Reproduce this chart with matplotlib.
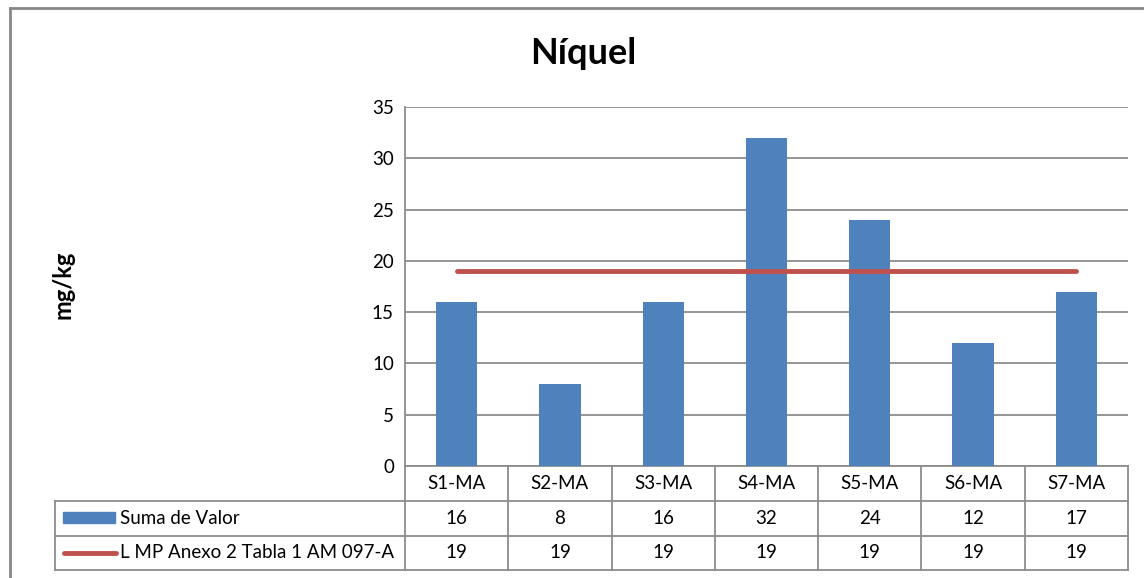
import matplotlib.pyplot as plt
from matplotlib.patches import Rectangle
from matplotlib.lines import Line2D
import matplotlib.transforms as mtransforms

plt.rcParams['font.family'] = ['Lato', 'DejaVu Sans']

# data
categories = ["S1-MA", "S2-MA", "S3-MA", "S4-MA", "S5-MA", "S6-MA", "S7-MA"]
suma_valor = [16, 8, 16, 32, 24, 12, 17]
limite = [19, 19, 19, 19, 19, 19, 19]
series_names = ["Suma de Valor", "L MP Anexo 2 Tabla 1 AM 097-A"]

BAR_COLOR = "#4F81BD"
LINE_COLOR = "#C0504D"
GRID_COLOR = "#8C8C8C"
FS = 13.5

W, H = 1144, 578
fig = plt.figure(figsize=(W / 100, H / 100), dpi=100)

# plot area in pixels
left_px, right_px, top_px, bottom_px = 405, 1128, 107, 466
ax = fig.add_axes([left_px / W, 1 - bottom_px / H,
                   (right_px - left_px) / W, (bottom_px - top_px) / H])

x = list(range(len(categories)))
ax.bar(x, suma_valor, width=0.4, color=BAR_COLOR, zorder=3)
ax.plot(x, limite, color=LINE_COLOR, lw=3.5, solid_capstyle='round', zorder=4)

ax.set_xlim(-0.5, len(categories) - 0.5)
ax.set_ylim(0, 35)
ax.set_yticks(range(0, 36, 5))
ax.set_xticks([])
ax.grid(axis='y', color=GRID_COLOR, lw=1.3, zorder=0)
ax.tick_params(axis='y', length=0, pad=8, labelsize=FS)
for side in ['top', 'right', 'bottom']:
    ax.spines[side].set_visible(False)
ax.spines['left'].set_color(GRID_COLOR)
ax.spines['left'].set_linewidth(1.3)

# data table below the axes
trans = mtransforms.blended_transform_factory(ax.transData, ax.transAxes)
ph = bottom_px - top_px
row_y = [0, -35 / ph, -70 / ph, -104 / ph]
x_left = -0.5 - (left_px - 55) / (right_px - left_px) * len(categories)
x_right = len(categories) - 0.5
tbl_kw = dict(color=GRID_COLOR, lw=1.3, transform=trans, clip_on=False)

# horizontal lines
ax.add_line(Line2D([-0.5, x_right], [row_y[0]] * 2, **tbl_kw))
for yy in row_y[1:]:
    ax.add_line(Line2D([x_left, x_right], [yy] * 2, **tbl_kw))
# vertical lines
for i in range(len(categories) + 1):
    xv = i - 0.5
    ax.add_line(Line2D([xv, xv], [row_y[0], row_y[3]], **tbl_kw))
ax.add_line(Line2D([x_left, x_left], [row_y[1], row_y[3]], **tbl_kw))

def mid(a, b):
    return (a + b) / 2

for i, cat in enumerate(categories):
    ax.text(i, mid(row_y[0], row_y[1]), cat, transform=trans, ha='center',
            va='center', fontsize=FS)
    ax.text(i, mid(row_y[1], row_y[2]), str(suma_valor[i]), transform=trans,
            ha='center', va='center', fontsize=FS)
    ax.text(i, mid(row_y[2], row_y[3]), str(limite[i]), transform=trans,
            ha='center', va='center', fontsize=FS)

# legend keys in the table
px = (right_px - left_px) / len(categories)  # pixels per category
def xpix(p):
    return -0.5 + (p - left_px) / px

ax.add_patch(Rectangle((xpix(63), -57 / ph), xpix(115) - xpix(63), 11 / ph,
                       color=BAR_COLOR, transform=trans, clip_on=False))
ax.add_line(Line2D([xpix(64), xpix(116)], [-87 / ph] * 2, color=LINE_COLOR,
                   lw=3.5, solid_capstyle='round', transform=trans,
                   clip_on=False))
ax.text(xpix(120), mid(row_y[1], row_y[2]), series_names[0], transform=trans,
        ha='left', va='center', fontsize=FS)
ax.text(xpix(120), mid(row_y[2], row_y[3]), series_names[1], transform=trans,
        ha='left', va='center', fontsize=FS)

# title and axis label
fig.text(583 / W, 1 - 53 / H, "Níquel", ha='center', va='center',
         fontsize=26, fontweight='bold')
fig.text(63 / W, 1 - 285 / H, "mg/kg", ha='center', va='center',
         rotation=90, fontsize=17, fontweight='bold')

# chart frame
fig.add_artist(Line2D([10 / W, 10 / W], [0, 1 - 8 / H], color='#878787',
                      lw=2, transform=fig.transFigure))
fig.add_artist(Line2D([10 / W, 1], [1 - 8 / H, 1 - 8 / H], color='#878787',
                      lw=2, transform=fig.transFigure))

fig.savefig("out.png", dpi=100)
